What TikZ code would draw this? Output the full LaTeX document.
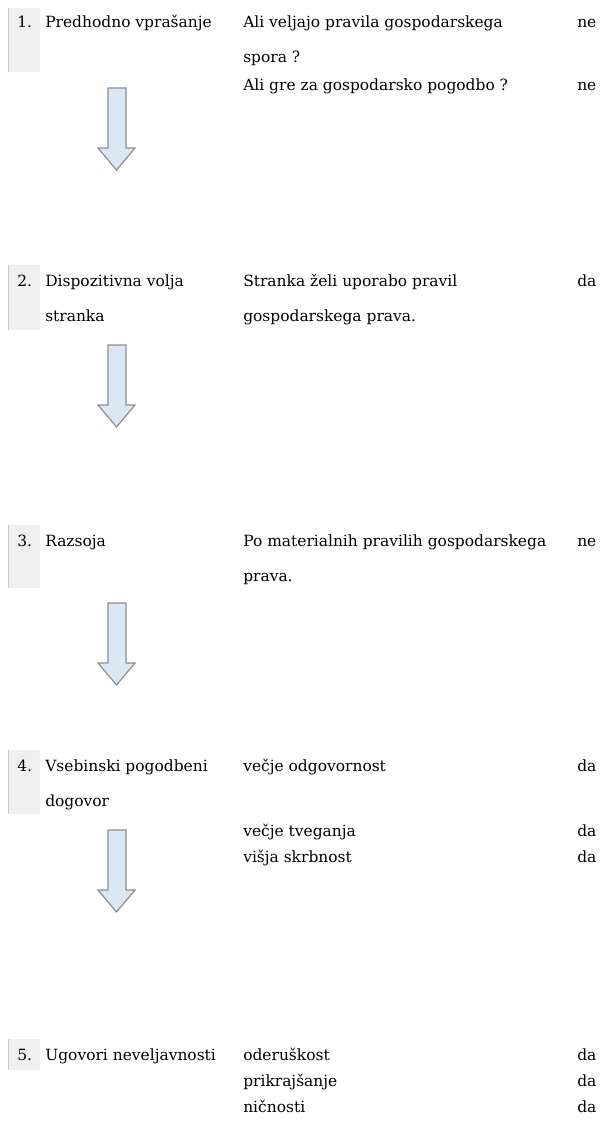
\documentclass[tikz,border=0pt]{standalone}
\usepackage{fontspec}
\setmainfont{DejaVu Serif}
\definecolor{cellgray}{HTML}{EFEFEF}
\definecolor{cellrule}{HTML}{C6C6C6}
\definecolor{arrowfill}{HTML}{DAE8F5}
\definecolor{arrowrule}{HTML}{8E8E8E}

\begin{document}
\begin{tikzpicture}[x=0.75pt,y=-0.75pt,
        txt/.style={anchor=base west,inner sep=0pt,font=\fontsize{11.6}{13}\selectfont},
        numcell/.style={fill=cellgray},
        cellline/.style={draw=cellrule,line width=0.6pt},
        blockarrow/.style={fill=arrowfill,draw=arrowrule,line width=0.9pt,line join=miter}]
        \useasboundingbox (0,0) rectangle (611,1124);
        % gray number cells
        \foreach \top/\bot in {8/72,265/330,525/588,750/814,1039/1070}{
            \fill[numcell] (8,\top) rectangle (40,\bot);
            \draw[cellline] (8.4,\top) -- (8.4,\bot);
        }
        % 1
        \node[txt] (n_1) at (17,28) {1.};
        \node[txt] (s_1) at (45,28) {Predhodno vprašanje};
        \node[txt] (q_1a) at (243,28) {Ali veljajo pravila gospodarskega};
        \node[txt] (q_1b) at (243,63) {spora ?};
        \node[txt] (q_1c) at (243,90) {Ali gre za gospodarsko pogodbo ?};
        \node[txt] (r_1a) at (577,28) {ne};
        \node[txt] (r_1c) at (577,90) {ne};
        % 2
        \node[txt] (n_2) at (17,286) {2.};
        \node[txt] (s_2a) at (45,286) {Dispozitivna volja};
        \node[txt] (s_2b) at (45,321) {stranka};
        \node[txt] (q_2a) at (243,286) {Stranka želi uporabo pravil};
        \node[txt] (q_2b) at (243,321) {gospodarskega prava.};
        \node[txt] (r_2a) at (577,286) {da};
        % 3
        \node[txt] (n_3) at (17,546) {3.};
        \node[txt] (s_3) at (45,546) {Razsoja};
        \node[txt] (q_3a) at (243,546) {Po materialnih pravilih gospodarskega};
        \node[txt] (q_3b) at (243,581) {prava.};
        \node[txt] (r_3a) at (577,546) {ne};
        % 4
        \node[txt] (n_4) at (17,771) {4.};
        \node[txt] (s_4a) at (45,771) {Vsebinski pogodbeni};
        \node[txt] (s_4b) at (45,806) {dogovor};
        \node[txt] (q_4a) at (243,771) {večje odgovornost};
        \node[txt] (q_4b) at (243,836) {večje tveganja};
        \node[txt] (q_4c) at (243,862) {višja skrbnost};
        \node[txt] (r_4a) at (577,771) {da};
        \node[txt] (r_4b) at (577,836) {da};
        \node[txt] (r_4c) at (577,862) {da};
        % 5
        \node[txt] (n_5) at (17,1060) {5.};
        \node[txt] (s_5) at (45,1060) {Ugovori neveljavnosti};
        \node[txt] (q_5a) at (243,1060) {oderuškost};
        \node[txt] (q_5b) at (243,1086) {prikrajšanje};
        \node[txt] (q_5c) at (243,1112) {ničnosti};
        \node[txt] (r_5a) at (577,1060) {da};
        \node[txt] (r_5b) at (577,1086) {da};
        \node[txt] (r_5c) at (577,1112) {da};
        % arrows between steps
        \foreach \y in {88,345,603,830}{
            \draw[blockarrow] (108,\y) -- (126,\y) -- (126,\y+60) -- (135,\y+60)
                -- (116.5,\y+82) -- (98,\y+60) -- (108,\y+60) -- cycle;
        }
    \end{tikzpicture}
\end{document}
